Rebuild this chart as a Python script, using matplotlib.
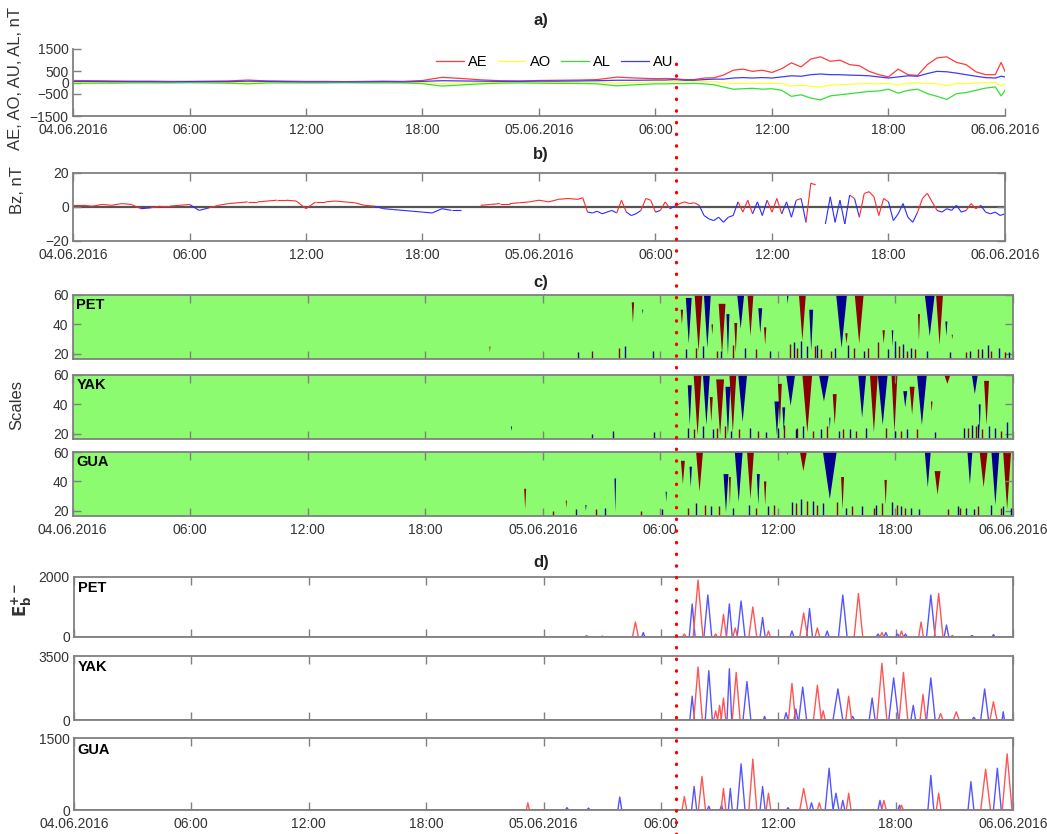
import numpy as np
import matplotlib.pyplot as plt
from matplotlib.lines import Line2D
from matplotlib.collections import LineCollection
from matplotlib.transforms import blended_transform_factory

plt.rcParams['font.family'] = ['Liberation Sans', 'DejaVu Sans']

# ---------------- data (hours from 04.06.2016 00:00) ----------------
xtick_pos = [0, 6, 12, 18, 24, 30, 36, 42, 48]
xtick_lab = ['04.06.2016', '06:00', '12:00', '18:00', '05.06.2016',
             '06:00', '12:00', '18:00', '06.06.2016']
onset_h = 31.05  # red dotted line

# panel a) auroral indices
t_a = [0, 1, 2, 3, 4, 5, 6, 7, 8, 9, 10, 11, 12, 13, 14, 15, 16, 17, 18, 19, 20,
       21, 22, 23, 24, 25, 26, 27, 28, 29, 30,
       30.5, 31, 31.5, 32, 32.5, 33, 33.5, 34, 34.5, 35, 35.5, 36, 36.5, 37, 37.5,
       38, 38.5, 39, 39.5, 40, 40.5, 41, 41.5, 42, 42.5, 43, 43.5, 44, 44.5, 45,
       45.5, 46, 46.5, 47, 47.5, 47.8, 48]
ae = [90, 80, 70, 60, 60, 50, 50, 60, 70, 110, 70, 60, 50, 50, 40, 50, 60, 50, 90, 230, 180,
      120, 80, 70, 90, 100, 110, 130, 240, 200, 170,
      180, 170, 130, 130, 200, 210, 330, 550, 600, 500, 550, 450, 620, 880, 700,
      1050, 1150, 950, 1000, 800, 750, 500, 350, 250, 600, 350, 320, 800, 1100, 1150,
      900, 800, 480, 350, 350, 900, 500]
au = [50, 50, 40, 40, 40, 30, 40, 40, 40, 60, 50, 40, 30, 30, 30, 30, 40, 30, 50, 80, 70,
      60, 50, 50, 60, 60, 70, 80, 100, 100, 110,
      110, 130, 100, 100, 130, 150, 150, 200, 220, 200, 220, 200, 250, 300, 280,
      350, 380, 350, 350, 330, 320, 300, 250, 200, 250, 300, 280, 400, 500, 480,
      420, 350, 280, 220, 200, 280, 250]
al = [-40, -30, -30, -20, -20, -20, -10, -20, -30, -60, -20, -20, -20, -20, -10, -20, -20, -20, -50, -160, -110,
      -60, -30, -20, -30, -40, -40, -60, -150, -100, -60,
      -60, -50, -50, -40, -60, -100, -200, -300, -280, -260, -300, -280, -350, -620, -550,
      -700, -780, -600, -550, -500, -450, -400, -380, -300, -480, -350, -300, -500, -620, -760,
      -500, -450, -350, -250, -200, -600, -350]
ao = [5, 10, 5, 10, 10, 5, 15, 10, 5, 0, 15, 10, 5, 5, 10, 5, 10, 5, 0, -40, -20,
      0, 10, 15, 15, 10, 15, 10, -25, 0, 25,
      20, 40, 30, 30, 40, 30, -20, -50, -30, -30, -40, -40, -50, -160, -130,
      -170, -200, -120, -100, -80, -60, -50, -60, -50, -110, -30, -10, -50, -60, -140,
      -40, -50, -30, -10, 0, -150, -50]

# panel b) IMF Bz
t_b = [0, 0.5, 1, 1.5, 2, 2.5, 3, 3.5, 4, 4.5, 5, 5.5, 6, 6.5, 7, 7.5, 8, 8.5, 9, 9.5,
       10, 10.5, 11, 11.5, 12, 12.5, 13, 13.5, 14, 14.5, 15, 15.5, 16, 16.5, 17, 17.5,
       18, 18.5, 19, 19.5, 20, 20.5, 21, 21.5, 22, 22.5, 23, 23.5, 24, 24.5, 25, 25.5, 26,
       26.25, 26.5, 26.75, 27, 27.25, 27.5, 27.75, 28, 28.25, 28.5, 28.75, 29, 29.25,
       29.5, 29.75, 30, 30.25, 30.5, 30.75, 31, 31.25, 31.5, 31.75, 32, 32.25, 32.5,
       32.75, 33, 33.25, 33.5, 33.75, 34, 34.25, 34.5, 34.75, 35, 35.25, 35.5, 35.75,
       36, 36.25, 36.5, 36.75, 37, 37.25, 37.5, 37.75, 38, 38.25, 38.5, 38.75, 39,
       39.25, 39.5, 39.75, 40, 40.25, 40.5, 40.75, 41, 41.25, 41.5, 41.75, 42, 42.25,
       42.5, 42.75, 43, 43.25, 43.5, 43.75, 44, 44.25, 44.5, 44.75, 45, 45.25, 45.5,
       45.75, 46, 46.25, 46.5, 46.75, 47, 47.25, 47.5, 47.75, 48]
bz = [1, 1, 0.5, 1.5, 1, 2, 1.5, -1, -0.5, 0.5, 0.5, 1, 1.5, -2, -0.5, 1, 2, 2.5, 3, 3,
      3.5, 4, 4, 3.5, -1, 3, 3, 3.5, 3, 2.5, 1, 0.5, -1, -1.5, -2, -2.5,
      -3, -3.5, -1, -2, -2, np.nan, 1, 1.5, 2, 2, 2.5, 3, 4, 3, 4.5, 5, 4.5,
      5.5, -3, -3.5, -2.5, -4, -3, -2, -3.5, 4, -3, -5, -4, -2,
      5, 4, -3, -2, 3, -1, 0.5, 2, 3, 2, 2.5, 1, -5,
      -7, -8, -6, -9, -6, -5, 3, -3, 4, -4, 3, -5, 4,
      -3, 5, -4, 3, -6, 4, 5, -9, 14, 13, np.nan, -10, 6,
      -9, 4, -10, 7, 5, -6, 8, 9, 6, -5, 5, 3, -8,
      -4, 2, -6, -9, -3, 5, 8, 3, -2, -3, -1, -2, 1,
      -3, -2, 2, -1, 1, -3, -4, -3, -5, -4]

# panel c) wavelet skeleton blobs: (time h, width h, top scale, bottom scale)
pet_red_blobs = [(21.3, 0.05, 25, 21), (28.6, 0.12, 55, 41), (31.1, 0.12, 50, 40),
                 (31.95, 0.4, 60, 22), (32.65, 0.08, 40, 33), (33.15, 0.35, 54, 20),
                 (33.85, 0.15, 41, 21), (34.6, 0.3, 60, 32), (35.35, 0.12, 38, 26),
                 (37.25, 0.35, 60, 29), (39.5, 0.12, 34, 27), (40.15, 0.45, 60, 27),
                 (41.4, 0.12, 36, 27), (43.2, 0.1, 47, 29), (44.25, 0.35, 60, 26),
                 (44.9, 0.06, 33, 30)]
pet_blue_blobs = [(29.1, 0.05, 50, 47), (31.45, 0.3, 58, 27), (32.4, 0.35, 60, 24),
                  (33.45, 0.15, 47, 19), (34.1, 0.35, 60, 37), (35.1, 0.2, 51, 34),
                  (36.5, 0.08, 60, 54), (37.7, 0.2, 50, 22), (39.25, 0.55, 60, 24),
                  (41.85, 0.08, 36, 25), (43.75, 0.5, 60, 32), (44.6, 0.1, 42, 32)]
yak_red_blobs = [(31.9, 0.4, 60, 19), (32.6, 0.15, 45, 28), (33.05, 0.4, 57, 19),
                 (33.7, 0.35, 60, 21), (36.1, 0.2, 54, 26), (37.5, 0.5, 60, 21),
                 (38.9, 0.2, 47, 26), (40.9, 0.4, 60, 21), (41.95, 0.3, 60, 21),
                 (42.85, 0.25, 52, 33), (43.85, 0.08, 42, 35), (44.65, 0.3, 60, 54),
                 (46.65, 0.25, 56, 26)]
yak_blue_blobs = [(22.4, 0.06, 25, 22), (31.5, 0.2, 53, 26), (32.35, 0.35, 60, 26),
                  (33.45, 0.25, 52, 19), (34.2, 0.45, 60, 28), (35.95, 0.25, 42, 19),
                  (36.3, 0.15, 38, 22), (36.65, 0.45, 60, 39), (38.35, 0.5, 60, 42),
                  (38.65, 0.06, 31, 23), (40.3, 0.4, 60, 31), (41.35, 0.5, 60, 26),
                  (42.5, 0.2, 49, 38), (43.35, 0.5, 60, 26), (46.05, 0.3, 60, 47),
                  (46.3, 0.1, 40, 21)]
gua_red_blobs = [(23.1, 0.1, 35, 21), (25.2, 0.06, 27, 22), (31.15, 0.2, 54, 38),
                 (32.0, 0.35, 60, 33), (33.55, 0.1, 43, 24), (34.6, 0.35, 60, 28),
                 (35.35, 0.12, 40, 24), (37.3, 0.35, 60, 47), (39.3, 0.15, 43, 21),
                 (41.5, 0.12, 41, 24), (44.15, 0.3, 47, 31), (46.5, 0.4, 60, 36),
                 (47.7, 0.4, 60, 21)]
gua_blue_blobs = [(26.2, 0.06, 24, 20), (27.7, 0.08, 42, 19), (30.3, 0.06, 33, 26),
                  (31.55, 0.12, 50, 36), (33.35, 0.25, 45, 19), (34.0, 0.4, 60, 26),
                  (35.0, 0.15, 45, 24), (36.5, 0.06, 60, 58), (38.65, 0.7, 60, 28),
                  (43.65, 0.3, 60, 36), (45.8, 0.25, 60, 38), (47.1, 0.4, 60, 24)]

# small-scale speckles near the bottom of panel c (time, top scale)
pet_red_noise_t = [26.5, 27.9, 31.8, 32.9, 33.7, 34.9, 36.6, 37.0, 37.9, 38.2, 38.7, 39.9, 40.6,
                   41.1, 42.2, 42.6, 43.0, 45.6, 46.2, 46.9, 47.6]
pet_red_noise_top = [22, 24, 24, 22, 26, 23, 27, 24, 25, 23, 22, 24, 24, 28, 25, 22, 23, 21, 23, 22, 21]
pet_blue_noise_t = [25.8, 28.2, 29.6, 31.3, 32.2, 33.1, 34.3, 35.6, 36.8, 37.2, 37.5, 38.0, 38.9,
                    39.6, 40.4, 41.6, 42.0, 42.4, 42.8, 43.6, 44.8, 45.8, 46.4, 46.7, 47.3, 47.8]
pet_blue_noise_top = [21, 25, 22, 23, 25, 22, 24, 22, 28, 29, 25, 26, 24, 26, 22, 23, 29, 27, 24,
                      22, 21, 22, 23, 26, 24, 21]
yak_red_noise_t = [31.7, 32.9, 33.3, 34.0, 35.0, 36.3, 37.0, 37.8, 38.5, 39.3, 40.0, 41.5, 42.3,
                   43.1, 45.7, 46.1, 46.4, 47.4]
yak_red_noise_top = [23, 24, 25, 23, 22, 26, 24, 22, 25, 23, 22, 24, 22, 23, 24, 25, 23, 22]
yak_blue_noise_t = [26.5, 27.6, 29.7, 31.4, 32.2, 32.7, 33.6, 34.6, 35.4, 36.0, 36.9, 37.3, 38.2,
                    39.1, 39.7, 40.5, 42.0, 42.6, 44.0, 45.5, 45.9, 46.2, 46.8, 47.1, 47.7]
yak_blue_noise_top = [20, 22, 21, 24, 25, 23, 22, 24, 21, 24, 23, 25, 23, 22, 23, 24, 22, 23, 21,
                      24, 26, 27, 25, 24, 28]
gua_red_noise_t = [24.5, 26.7, 29.0, 31.4, 32.3, 33.0, 34.9, 35.8, 36.9, 37.5, 38.0, 39.0, 39.8,
                   40.9, 41.3, 42.1, 42.5, 44.7, 45.3, 46.2, 47.4]
gua_red_noise_top = [20, 21, 20, 22, 24, 23, 22, 24, 25, 27, 24, 26, 23, 22, 25, 24, 22, 21, 22, 23, 22]
gua_blue_noise_t = [25.7, 27.2, 30.1, 31.8, 32.6, 33.7, 34.5, 35.5, 36.7, 37.2, 37.8, 38.3, 39.5,
                    40.3, 41.0, 41.8, 42.3, 42.8, 43.2, 45.2, 45.6, 46.0, 46.9, 47.5, 47.9]
gua_blue_noise_top = [21, 22, 21, 25, 23, 22, 24, 23, 26, 28, 27, 25, 22, 23, 24, 26, 23, 22, 21,
                      23, 22, 21, 24, 23, 22]

# panel d) E_b+- peaks: (time h, peak value, half width h)
pet_red_peaks = [(27.0, 30, 0.1), (28.7, 500, 0.15), (31.2, 100, 0.1), (31.9, 1900, 0.25),
                 (32.8, 100, 0.1), (33.2, 750, 0.15), (33.8, 300, 0.12), (34.7, 1000, 0.2),
                 (35.5, 200, 0.1), (37.3, 800, 0.2), (38.0, 300, 0.12), (40.1, 1450, 0.22),
                 (41.3, 150, 0.1), (42.3, 200, 0.1), (43.3, 500, 0.12), (44.2, 1450, 0.22),
                 (44.9, 50, 0.1)]
pet_blue_peaks = [(26.2, 40, 0.1), (29.1, 150, 0.08), (31.6, 1100, 0.15), (32.4, 1400, 0.2),
                  (33.5, 1100, 0.15), (34.1, 1200, 0.2), (35.2, 650, 0.13), (36.7, 200, 0.1),
                  (37.6, 950, 0.15), (38.5, 200, 0.1), (39.3, 1400, 0.22), (41.1, 100, 0.1),
                  (41.5, 150, 0.1), (42.1, 100, 0.1), (42.5, 100, 0.1), (43.8, 1400, 0.22),
                  (44.6, 400, 0.12), (45.9, 50, 0.1), (47.0, 80, 0.08)]
yak_red_peaks = [(31.9, 2900, 0.22), (32.8, 500, 0.1), (33.0, 800, 0.1), (33.2, 1200, 0.12),
                 (33.85, 2600, 0.2), (36.7, 2000, 0.18), (38.0, 1900, 0.2), (38.3, 500, 0.1),
                 (39.6, 1300, 0.15), (41.3, 3100, 0.25), (42.4, 2600, 0.22), (43.4, 1400, 0.15),
                 (44.3, 350, 0.12), (45.1, 450, 0.15), (47.0, 1000, 0.18)]
yak_blue_peaks = [(31.6, 1300, 0.12), (32.45, 2700, 0.18), (33.5, 2800, 0.12), (34.4, 2100, 0.2),
                  (35.3, 200, 0.06), (36.4, 400, 0.1), (36.9, 600, 0.1), (37.25, 1800, 0.2),
                  (39.05, 1700, 0.25), (39.8, 200, 0.1), (40.8, 1200, 0.15), (41.9, 2300, 0.25),
                  (42.9, 800, 0.12), (43.8, 2300, 0.22), (46.0, 150, 0.1), (46.55, 1700, 0.2),
                  (47.5, 450, 0.06)]
gua_red_peaks = [(23.2, 150, 0.08), (31.2, 280, 0.12), (32.1, 700, 0.18), (33.2, 450, 0.12),
                 (34.7, 1060, 0.2), (35.5, 350, 0.12), (37.3, 450, 0.2), (38.1, 150, 0.1),
                 (39.6, 350, 0.12), (41.4, 200, 0.12), (42.3, 100, 0.1), (44.2, 350, 0.12),
                 (46.6, 850, 0.25), (47.7, 1170, 0.25)]
gua_blue_peaks = [(25.2, 50, 0.08), (26.3, 40, 0.08), (27.9, 270, 0.1), (31.7, 490, 0.13),
                  (32.45, 80, 0.08), (33.1, 100, 0.08), (33.55, 450, 0.1), (34.1, 960, 0.2),
                  (35.2, 490, 0.13), (36.5, 50, 0.08), (37.7, 150, 0.1), (38.6, 870, 0.2),
                  (38.95, 350, 0.15), (39.3, 200, 0.1), (41.2, 200, 0.1), (42.2, 100, 0.08),
                  (43.8, 720, 0.15), (45.85, 590, 0.15), (47.2, 870, 0.2)]

# ---------------- figure ----------------
W, H = 1047, 834
fig = plt.figure(figsize=(W / 100, H / 100), dpi=100)

GRAY = '#808080'
TXT = '#333333'
DRED = '#8b0000'
DBLUE = '#00008f'
GREEN = '#8dfb6f'


def px_axes(left, top, right, bottom):
    return fig.add_axes([left / W, 1 - bottom / H, (right - left) / W, (bottom - top) / H])


def style(ax, box=True, labels=True):
    for s in ax.spines.values():
        s.set_color(GRAY)
        s.set_linewidth(1.3)
    ax.tick_params(direction='in', length=6, width=1, color=GRAY, labelcolor=TXT,
                   labelsize=10, top=box, right=box, pad=3)
    ax.tick_params(axis='x', pad=5)
    ax.set_xlim(0, 48)
    ax.set_xticks(xtick_pos)
    if labels:
        ax.set_xticklabels(xtick_lab)
    else:
        ax.set_xticklabels([])


def title(y_px, s):
    fig.text(541 / W, 1 - y_px / H, s, ha='center', va='center',
             fontsize=12, fontweight='bold', color='#222222')


def ylab(x_px, y_px, s, **kw):
    fig.text(x_px / W, 1 - y_px / H, s, ha='center', va='center', rotation=90,
             fontsize=12, color=TXT, **kw)


# a)
ax_a = px_axes(73, 49, 1005, 116)
style(ax_a, box=False)
ax_a.spines['top'].set_visible(False)
ax_a.spines['right'].set_visible(False)
ax_a.plot(t_a, ae, color='#ff3b3b', lw=0.9, label='AE')
ax_a.plot(t_a, ao, color='#ffff33', lw=0.9, label='AO')
ax_a.plot(t_a, al, color='#33e033', lw=0.9, label='AL')
ax_a.plot(t_a, au, color='#3b3bff', lw=0.9, label='AU')
ax_a.set_ylim(-1500, 1500)
ax_a.set_yticks([-1500, -500, 0, 500, 1500])
ax_a.legend(loc='center', bbox_to_anchor=(0.517, 0.8), ncol=4, frameon=False,
            fontsize=10.5, handlelength=1.9, handletextpad=0.3, columnspacing=0.7,
            borderpad=0)
title(20, 'a)')
ylab(16, 78, 'AE, AO, AU, AL, nT')

# b)
ax_b = px_axes(73, 173, 1005, 241)
style(ax_b)
ax_b.axhline(0, color='#555555', lw=1.6, zorder=1)
tb = np.array(t_b)
vb = np.array(bz, dtype=float)
segs, cols = [], []
for i in range(len(tb) - 1):
    if np.isnan(vb[i]) or np.isnan(vb[i + 1]):
        continue
    segs.append([(tb[i], vb[i]), (tb[i + 1], vb[i + 1])])
    cols.append('#ff2a2a' if vb[i] + vb[i + 1] >= 0 else '#2a2aff')
ax_b.add_collection(LineCollection(segs, colors=cols, linewidths=0.8, zorder=2))
ax_b.set_ylim(-20, 20)
ax_b.set_yticks([-20, 0, 20])
title(155, 'b)')
ylab(17, 190, 'Bz, nT')

# c)
c_rows = [('PET', 295, 359, pet_red_blobs, pet_blue_blobs,
           (pet_red_noise_t, pet_red_noise_top), (pet_blue_noise_t, pet_blue_noise_top)),
          ('YAK', 375, 439, yak_red_blobs, yak_blue_blobs,
           (yak_red_noise_t, yak_red_noise_top), (yak_blue_noise_t, yak_blue_noise_top)),
          ('GUA', 452, 516, gua_red_blobs, gua_blue_blobs,
           (gua_red_noise_t, gua_red_noise_top), (gua_blue_noise_t, gua_blue_noise_top))]
for k, (name, top, bot, reds, blues, rnoise, bnoise) in enumerate(c_rows):
    ax = px_axes(72.6, top, 1013, bot)
    style(ax, labels=(k == 2))
    ax.set_facecolor(GREEN)
    ax.set_ylim(16.5, 60)
    ax.set_yticks([20, 40, 60])
    for blobs, col in ((reds, DRED), (blues, DBLUE)):
        for t, w, yt, yb in blobs:
            ax.fill([t - w / 2, t + w / 2, t], [yt, yt, yb], color=col, lw=0)
    ax.vlines(rnoise[0], 16.5, rnoise[1], color=DRED, lw=1.0)
    ax.vlines(bnoise[0], 16.5, bnoise[1], color=DBLUE, lw=1.0)
    ax.text(0.004, 0.95, name, transform=ax.transAxes, ha='left', va='top',
            fontsize=10.5, fontweight='bold', color='black')
title(282, 'c)')
ylab(17, 405, 'Scales')


def peak_line(peaks):
    xs, ys = [0], [0]
    for t, h, w in sorted(peaks):
        xs += [t - w, t, t + w]
        ys += [0, h, 0]
    xs.append(48)
    ys.append(0)
    return xs, ys


# d)
d_rows = [('PET', 577, 637, 2000, pet_red_peaks, pet_blue_peaks),
          ('YAK', 656, 720, 3500, yak_red_peaks, yak_blue_peaks),
          ('GUA', 738, 810, 1500, gua_red_peaks, gua_blue_peaks)]
for k, (name, top, bot, ymax, reds, blues) in enumerate(d_rows):
    ax = px_axes(74, top, 1013, bot)
    style(ax, labels=(k == 2))
    ax.tick_params(axis='y', length=0)
    ax.set_ylim(0, ymax)
    ax.set_yticks([0, ymax])
    xb, yb = peak_line(blues)
    ax.plot(xb, yb, color='#5555ff', lw=1.0)
    xr, yr = peak_line(reds)
    ax.plot(xr, yr, color='#ff5555', lw=1.0)
    ax.text(0.004, 0.93, name, transform=ax.transAxes, ha='left', va='top',
            fontsize=10.5, fontweight='bold', color='black')
title(562, 'd)')
ylab(22, 600, r'$\mathbf{E_b^{+-}}$')

# onset marker across the whole figure
tr = blended_transform_factory(ax_a.transData, fig.transFigure)
fig.add_artist(Line2D([onset_h, onset_h], [0, 1 - 58 / H], transform=tr, color='red',
                      lw=2.4, linestyle=(0, (0.1, 3.4)), dash_capstyle='round'))

fig.savefig('out.png', dpi=100)
